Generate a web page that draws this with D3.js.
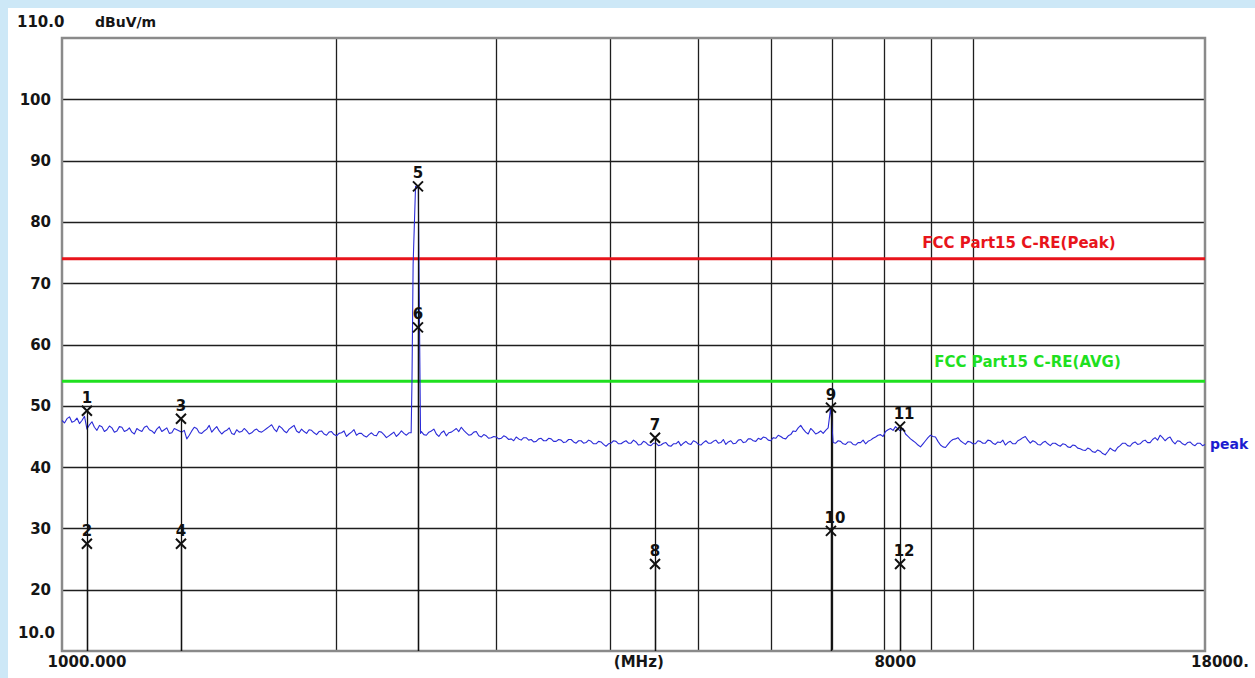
<!DOCTYPE html>
<html>
<head>
<meta charset="utf-8">
<script src="https://cdn.jsdelivr.net/npm/d3@7"></script>
<style>
  html, body { margin: 0; padding: 0; background: #cde8f7; }
  svg { display: block; }
</style>
</head>
<body>
<svg id="chart" width="1255" height="678"></svg>
<script>
// ---------------- DATA ----------------
const freqStart = 1000;          // MHz
const freqStop = 18000;          // MHz
const yTicks = [20, 30, 40, 50, 60, 70, 80, 90, 100];
const xGridFreqs = [2000, 3000, 4000, 5000, 6000, 7000, 8000, 9000, 10000];
const xLabels = [
  { f: 1000, text: "1000.000", dx: 25 },
  { f: 4500, text: "(MHz)", dx: -18 },
  { f: 8000, text: "8000", dx: 11 },
  { f: 18000, text: "18000.", dx: 15 }
];

// Peak trace, one value per sweep point (log-spaced sweep 1000-18000 MHz)
const traceValues = [
  47.6,47.2, 47.9,48.2, 47.3,47.5, 48.0,47.1, 47.6,48.3, 46.2,46.9, 47.4,46.5, 46.0,46.8, 46.6,45.8, 46.1,46.7,
  46.4,45.7, 45.9,46.6, 46.5,45.8, 46.0,46.4, 45.7,45.4, 46.3,46.0, 45.8,46.5, 46.7,46.1, 45.9,45.5, 46.2,46.6,
  45.8,46.1, 46.4,45.5, 45.6,46.3, 46.1,45.9, 45.7,46.0, 44.6,45.2, 45.9,46.5, 46.3,45.6, 45.5,45.9, 46.2,46.8,
  45.7,46.2, 46.6,45.9, 45.4,45.8, 46.0,46.4, 45.5,45.3, 46.1,45.7, 45.8,46.3, 45.9,45.4, 45.6,46.0, 46.2,45.8,
  45.7,46.0, 46.3,46.6, 46.9,46.2, 45.8,46.7, 46.4,45.9, 45.6,46.2, 46.5,46.8, 45.9,45.6, 46.2,45.8, 45.5,46.1,
  46.0,45.6, 45.3,45.8, 45.9,45.4, 45.2,45.7, 45.8,45.3, 45.1,45.5, 45.6,45.9, 45.0,45.4, 45.7,46.1, 45.2,45.5,
  45.5,45.1, 44.9,45.3, 45.6,45.2, 45.1,45.8, 45.7,45.3, 44.8,45.1, 45.4,45.7, 45.0,45.4, 45.9,45.5, 45.2,45.6,
  45.4,45.8, 45.5,45.9, 45.8,45.3, 45.2,45.7, 45.9,46.2, 45.4,45.0, 45.6,45.9, 45.1,45.6, 45.7,46.0, 46.3,45.8,
  46.5,46.0, 45.6,45.2, 45.3,45.7, 45.8,45.1, 44.9,45.3, 45.1,44.7, 44.8,45.0, 44.9,44.6, 44.7,45.1, 44.9,44.5,
  44.6,44.3, 44.9,44.6, 44.4,44.8, 44.8,44.4, 44.5,44.1, 44.2,44.6, 44.7,44.3, 44.3,44.7, 44.6,44.2, 44.2,44.5,
  44.4,44.0, 44.1,44.5, 44.5,44.1, 43.9,44.3, 44.3,43.9, 44.0,44.4, 44.2,43.8, 43.8,44.2, 44.1,43.7, 43.4,43.8,
  43.9,44.3, 44.2,43.8, 43.8,44.1, 44.3,43.9, 43.9,44.4, 44.1,43.6, 43.7,44.2, 44.0,43.6, 43.5,43.9, 43.9,43.5,
  43.6,43.9, 44.0,43.5, 43.4,43.8, 43.8,44.2, 43.5,43.9, 44.2,43.8, 43.7,44.3, 44.1,43.7, 43.6,44.0, 44.3,43.9,
  43.9,44.2, 44.4,43.9, 44.0,44.5, 43.7,44.1, 44.3,43.8, 43.9,44.4, 44.5,44.0, 44.1,44.6, 44.6,44.3, 44.2,44.7,
  44.5,44.9, 44.8,44.4, 44.3,44.8, 44.7,45.2, 45.0,44.7, 44.6,45.1, 45.3,45.9, 45.8,46.4, 46.8,46.2, 45.7,45.4,
  46.3,45.9, 45.4,45.6, 45.9,45.5, 46.0,46.4, 49.7,44.0, 43.9,44.3, 44.2,43.8, 43.7,44.1, 44.1,43.7, 43.6,44.0,
  44.0,44.4, 43.8,44.2, 44.4,44.7, 44.9,45.2, 45.3,45.0, 45.8,46.1, 46.3,46.0, 46.6,46.2, 45.9,46.3, 45.4,45.0,
  44.6,44.3, 44.0,43.6, 43.3,43.8, 44.3,44.8, 45.2,45.0, 44.9,44.2, 43.6,43.3, 43.2,43.7, 44.2,44.5, 44.6,44.8,
  44.3,44.0, 43.7,44.2, 44.1,43.8, 43.8,44.3, 44.2,43.9, 43.9,44.4, 44.3,43.9, 43.7,44.1, 44.0,44.4, 43.6,44.0,
  44.2,43.8, 43.8,44.3, 44.5,44.8, 45.0,44.4, 43.9,44.3, 44.1,43.7, 43.6,44.0, 44.2,43.8, 43.5,43.9, 43.9,43.6,
  43.4,43.8, 43.7,43.3, 43.2,43.6, 43.5,43.1, 43.0,42.8, 42.7,43.1, 42.9,42.5, 42.4,42.8, 42.6,42.2, 42.0,42.5,
  43.1,42.8, 42.6,43.2, 43.5,43.9, 43.9,43.5, 43.4,43.9, 44.1,43.7, 43.8,44.2, 44.4,44.0, 44.0,44.5, 44.8,44.4,
  45.2,44.8, 44.3,44.7, 44.9,44.2, 43.8,44.3, 44.2,43.8, 43.6,44.0, 44.1,43.7, 43.5,43.9, 43.9,43.5, 43.7
];
// Narrow carrier spike near 2.46 GHz (frequency MHz, level dBuV/m)
const spikeFreqs  = [2418, 2423, 2430, 2445, 2462, 2470, 2476];
const spikeLevels = [45.6, 54.0, 73.0, 85.8, 85.5, 62.0, 45.5];

// Limit lines
const limitNames  = ["FCC Part15 C-RE(Peak)", "FCC Part15 C-RE(AVG)"];
const limitLevels = [74, 54];
const limitColors = ["#e8141b", "#1fe01f"];

// Markers
const markerIds    = ["1", "2", "3", "4", "5", "6", "7", "8", "9", "10", "11", "12"];
const markerFreqs  = [1065, 1065, 1351, 1351, 2460, 2460, 4480, 4480, 6990, 6990, 8325, 8325];
const markerLevels = [49.2, 27.5, 47.9, 27.5, 85.8, 62.8, 44.8, 24.2, 49.7, 29.6, 46.6, 24.2];

// ---------------- LAYOUT ----------------
const svg = d3.select("#chart");
const W = 1255, H = 678;
const pl = 62, pr = 1205, pt = 38, pb = 651;

const x = d3.scaleLog().domain([freqStart, freqStop]).range([pl, pr]);
const y = d3.scaleLinear().domain([10, 110]).range([pb, pt]);

const font = "'DejaVu Sans', sans-serif";

// white panel
svg.append("rect").attr("x", 8).attr("y", 8).attr("width", W - 8).attr("height", H - 8).attr("fill", "#ffffff");

// horizontal grid
svg.append("g").selectAll("line").data(yTicks).join("line")
  .attr("x1", pl).attr("x2", pr)
  .attr("y1", d => Math.round(y(d)) + 0.5).attr("y2", d => Math.round(y(d)) + 0.5)
  .attr("stroke", "#1e1e1e").attr("stroke-width", 1.3);

// vertical grid
svg.append("g").selectAll("line").data(xGridFreqs).join("line")
  .attr("x1", d => Math.round(x(d)) + 0.5).attr("x2", d => Math.round(x(d)) + 0.5)
  .attr("y1", pt).attr("y2", pb)
  .attr("stroke", "#1e1e1e").attr("stroke-width", 1.3);

// frame
svg.append("rect").attr("x", pl).attr("y", pt).attr("width", pr - pl).attr("height", pb - pt)
  .attr("fill", "none").attr("stroke", "#8a8a8a").attr("stroke-width", 2.5);

// y tick labels
svg.append("g").selectAll("text").data(yTicks).join("text")
  .attr("x", 51).attr("y", d => y(d) + 5.5)
  .attr("text-anchor", "end")
  .attr("font-family", font).attr("font-weight", "bold").attr("font-size", 15)
  .attr("fill", "#151515").text(d => d);
svg.append("text").attr("x", 17).attr("y", y(110) - 11)
  .attr("font-family", font).attr("font-weight", "bold").attr("font-size", 15)
  .attr("fill", "#151515").text("110.0");
svg.append("text").attr("x", 18).attr("y", y(10) - 13)
  .attr("font-family", font).attr("font-weight", "bold").attr("font-size", 15)
  .attr("fill", "#151515").text("10.0");
svg.append("text").attr("x", 95).attr("y", y(110) - 11)
  .attr("font-family", font).attr("font-weight", "bold").attr("font-size", 14)
  .attr("fill", "#151515").text("dBuV/m");

// x labels
svg.append("g").selectAll("text").data(xLabels).join("text")
  .attr("x", d => x(d.f) + d.dx).attr("y", pb + 16)
  .attr("text-anchor", "middle")
  .attr("font-family", font).attr("font-weight", "bold").attr("font-size", 15)
  .attr("fill", "#151515").text(d => d.text);

// limit lines
limitLevels.forEach((lv, i) => {
  svg.append("line").attr("x1", pl).attr("x2", pr).attr("y1", y(lv)).attr("y2", y(lv))
    .attr("stroke", limitColors[i]).attr("stroke-width", 3);
});
svg.append("text").attr("x", x(8000) + 38).attr("y", y(limitLevels[0]) - 11)
  .attr("font-family", font).attr("font-weight", "bold").attr("font-size", 15)
  .attr("fill", limitColors[0]).text(limitNames[0]);
svg.append("text").attr("x", x(8000) + 50).attr("y", y(limitLevels[1]) - 14)
  .attr("font-family", font).attr("font-weight", "bold").attr("font-size", 15)
  .attr("fill", limitColors[1]).text(limitNames[1]);

// trace
const nPts = traceValues.length;
const sweep = traceValues.map((v, i) => ({
  f: freqStart * Math.pow(freqStop / freqStart, i / (nPts - 1)), v
}));
const spikePts = spikeFreqs.map((f, i) => ({ f, v: spikeLevels[i] }));
const tracePts = sweep.filter(p => p.f < spikeFreqs[0] || p.f > spikeFreqs[spikeFreqs.length - 1])
  .concat(spikePts).sort((a, b) => a.f - b.f);

const line = d3.line().x(d => x(d.f)).y(d => y(d.v));
svg.append("path").datum(tracePts).attr("d", line)
  .attr("fill", "none").attr("stroke", "#2b2bd8").attr("stroke-width", 1.1)
  .attr("stroke-linejoin", "round");

svg.append("text").attr("x", pr + 5).attr("y", y(traceValues[nPts - 1]) + 5)
  .attr("font-family", font).attr("font-weight", "bold").attr("font-size", 14)
  .attr("fill", "#1c1cd0").text("peak");

// markers
const markers = markerIds.map((id, i) => ({ id, f: markerFreqs[i], v: markerLevels[i] }));
const mg = svg.append("g");
mg.selectAll("line.stem").data(markers).join("line").attr("class", "stem")
  .attr("x1", d => Math.round(x(d.f)) + 0.5).attr("x2", d => Math.round(x(d.f)) + 0.5)
  .attr("y1", d => y(d.v)).attr("y2", pb)
  .attr("stroke", "#111").attr("stroke-width", 1.3);
const xs = 5;
mg.selectAll("path.mx").data(markers).join("path").attr("class", "mx")
  .attr("d", d => {
    const cx = x(d.f), cy = y(d.v);
    return `M${cx - xs},${cy - xs}L${cx + xs},${cy + xs}M${cx + xs},${cy - xs}L${cx - xs},${cy + xs}`;
  })
  .attr("stroke", "#111").attr("stroke-width", 2).attr("fill", "none");
mg.selectAll("text").data(markers).join("text")
  .attr("x", d => x(d.f) + (d.id.length > 1 ? 4 : 0)).attr("y", d => y(d.v) - 8)
  .attr("text-anchor", "middle")
  .attr("font-family", font).attr("font-weight", "bold").attr("font-size", 15)
  .attr("fill", "#111").text(d => d.id);
</script>
</body>
</html>
